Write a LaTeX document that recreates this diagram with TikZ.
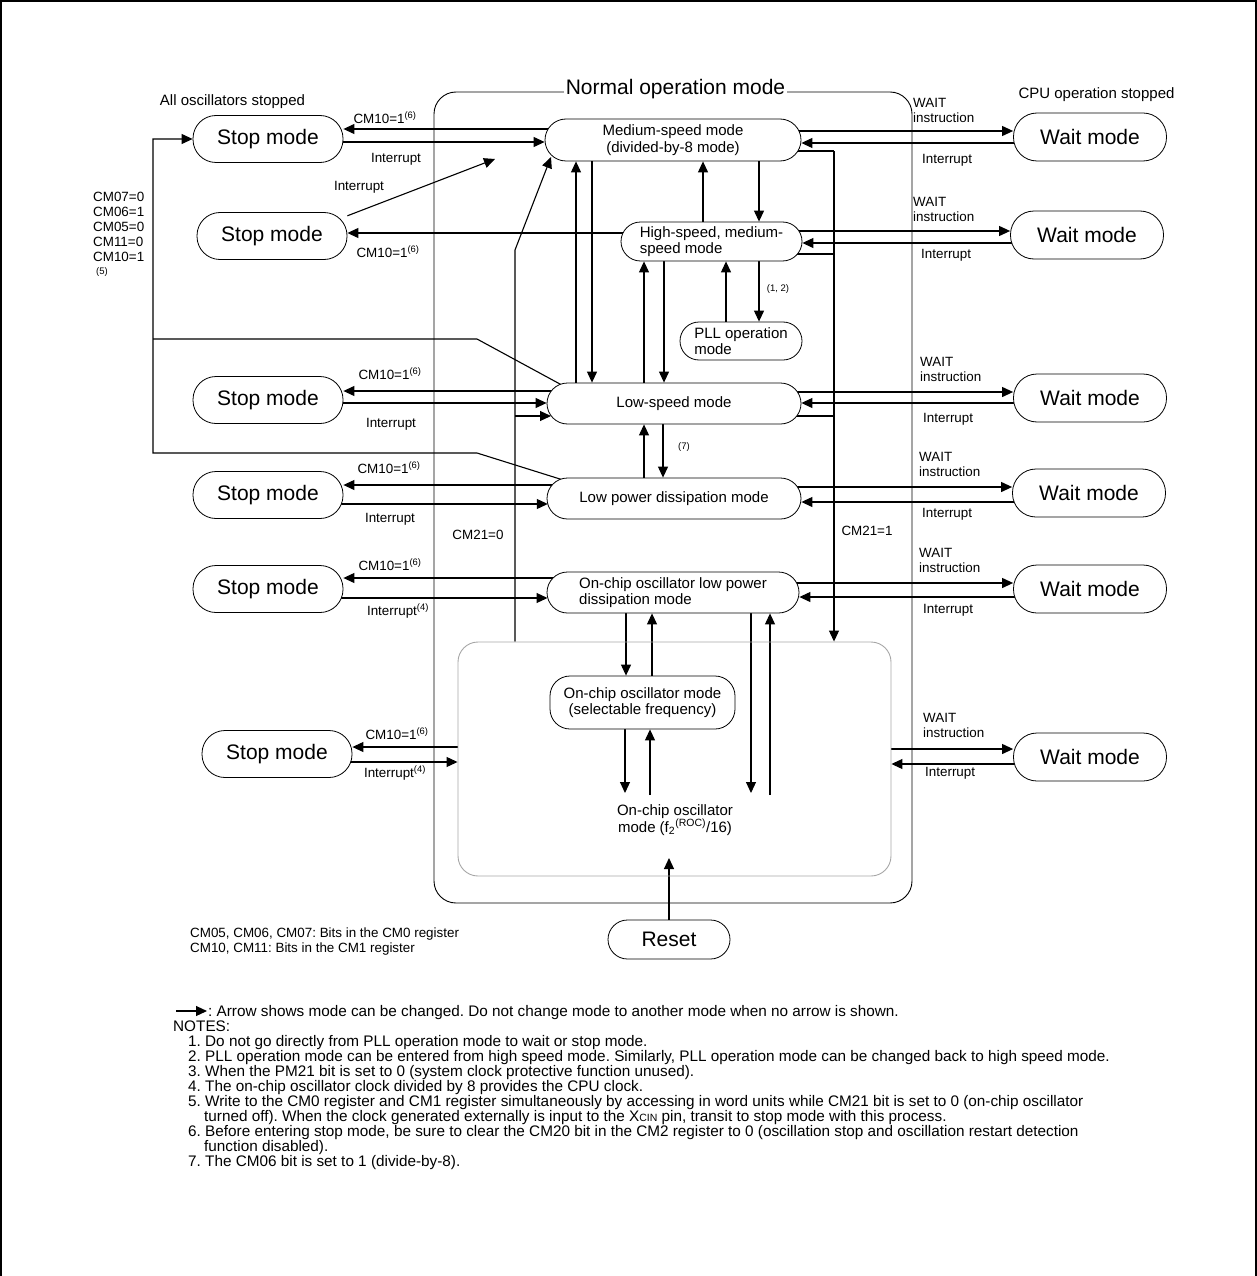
\documentclass[tikz,border=0pt]{standalone}
\usepackage{fontspec}
\setmainfont{Liberation Sans}
\usetikzlibrary{arrows.meta,backgrounds}
\newcommand\FBig{\fontsize{21}{24}\selectfont}
\newcommand\FMode{\fontsize{15}{16.5}\selectfont}
\newcommand\FLab{\fontsize{13.4}{15}\selectfont}
\newcommand\FNote{\fontsize{15.3}{15}\selectfont}
\newcommand\FTiny{\fontsize{9.5}{11}\selectfont}
\frenchspacing
\begin{document}
\begin{tikzpicture}[x=1pt,y=-1pt,
  ln/.style={line width=1.1pt},
  arr/.style={line width=1.1pt,-{Triangle[length=11pt,width=10pt]}},
  bx/.style={draw,fill=white,line width=0.8pt,inner sep=0pt},
  sbox/.style={bx,font=\FBig,minimum width=150pt,minimum height=47pt,rounded corners=23pt},
  wbox/.style={bx,font=\FBig,minimum width=153pt,minimum height=48pt,rounded corners=23.5pt},
  mbox/.style={bx,font=\FMode,align=center},
  lab/.style={font=\FLab,inner sep=0pt},
  wlab/.style={font=\FLab,inner sep=0pt,anchor=west,align=left},
  note/.style={font=\FNote,inner sep=0pt,anchor=base west},
]
\useasboundingbox (0,0) rectangle (1257,1276);
\draw[line width=1.5pt] (1,1276) -- (1,1) -- (1256,1) -- (1256,1276);

% frames
\node[draw,line width=0.9pt,minimum width=478pt,minimum height=811pt,rounded corners=22pt,inner sep=0pt] (normal) at (673,497.5) {};
\node[draw=black!35,line width=0.9pt,minimum width=433pt,minimum height=234pt,rounded corners=20pt,inner sep=0pt] (inner) at (674.5,759) {};
\node[fill=white,font=\FBig,inner xsep=2pt,inner ysep=0pt] (title) at (675.5,89) {Normal operation mode};

% mode boxes
\node[mbox,minimum width=256pt,minimum height=42pt,rounded corners=21pt] (med) at (673,140) {Medium-speed mode\\(divided-by-8 mode)};
\node[mbox,align=left,minimum width=181pt,minimum height=39pt,rounded corners=19.5pt] (hs) at (711.5,241.5) {High-speed, medium-\\speed mode};
\node[mbox,align=left,minimum width=122pt,minimum height=38pt,rounded corners=19pt] (pll) at (741,341) {PLL operation\\mode};
\node[mbox,minimum width=254pt,minimum height=41pt,rounded corners=20.5pt] (ls) at (674,403.5) {Low-speed mode};
\node[mbox,minimum width=254pt,minimum height=41pt,rounded corners=20.5pt] (lp) at (674,498.5) {Low power dissipation mode};
\node[mbox,align=left,minimum width=252pt,minimum height=41pt,rounded corners=20.5pt] (oclp) at (673,592.5) {On-chip oscillator low power\\dissipation mode};
\node[mbox,minimum width=185pt,minimum height=53pt,rounded corners=20pt] (ocm) at (642.5,702.5) {On-chip oscillator mode\\(selectable frequency)};
\node[font=\FMode,align=center,inner sep=0pt] (roc) at (675,820) {On-chip oscillator\\mode (f\textsubscript{2}\textsuperscript{(ROC)}/16)};
\node[sbox,minimum width=122pt,minimum height=39pt,rounded corners=19.5pt] (reset) at (669,939.5) {Reset};

% stop boxes
\node[sbox] (stop1) at (268,139) {Stop mode};
\node[sbox] (stop2) at (272,236) {Stop mode};
\node[sbox] (stop3) at (268,400) {Stop mode};
\node[sbox] (stop4) at (268,495) {Stop mode};
\node[sbox] (stop5) at (268,589) {Stop mode};
\node[sbox] (stop6) at (277,754) {Stop mode};

% wait boxes
\node[wbox] (wait1) at (1090,137) {Wait mode};
\node[wbox] (wait2) at (1087,235) {Wait mode};
\node[wbox] (wait3) at (1090,398) {Wait mode};
\node[wbox] (wait4) at (1089,493) {Wait mode};
\node[wbox] (wait5) at (1090,589) {Wait mode};
\node[wbox] (wait6) at (1090,757) {Wait mode};

% headings
\node[font=\FMode,inner sep=0pt] (hAll) at (232.5,102) {All oscillators stopped};
\node[font=\FMode,inner sep=0pt] (hCpu) at (1096.5,95) {CPU operation stopped};

% stop-side labels
\node[lab] (s1a) at (385,118) {CM10=1\textsuperscript{(6)}};
\node[lab] (s1b) at (396,159) {Interrupt};
\node[lab] (s2a) at (388,252) {CM10=1\textsuperscript{(6)}};
\node[lab] (s2b) at (359,187) {Interrupt};
\node[lab] (s3a) at (390,374) {CM10=1\textsuperscript{(6)}};
\node[lab] (s3b) at (391,424) {Interrupt};
\node[lab] (s4a) at (389,468) {CM10=1\textsuperscript{(6)}};
\node[lab] (s4b) at (390,519) {Interrupt};
\node[lab] (s5a) at (390,565) {CM10=1\textsuperscript{(6)}};
\node[lab] (s5b) at (398,611) {Interrupt\textsuperscript{(4)}};
\node[lab] (s6a) at (397,734) {CM10=1\textsuperscript{(6)}};
\node[lab] (s6b) at (395,773) {Interrupt\textsuperscript{(4)}};

% wait-side labels
\node[wlab] (w1a) at (913,110.5) {WAIT\\instruction};
\node[wlab] (w1b) at (922,160) {Interrupt};
\node[wlab] (w2a) at (913,209.5) {WAIT\\instruction};
\node[wlab] (w2b) at (921,255) {Interrupt};
\node[wlab] (w3a) at (920,369.5) {WAIT\\instruction};
\node[wlab] (w3b) at (923,419) {Interrupt};
\node[wlab] (w4a) at (919,464.5) {WAIT\\instruction};
\node[wlab] (w4b) at (922,514) {Interrupt};
\node[wlab] (w5a) at (919,560.5) {WAIT\\instruction};
\node[wlab] (w5b) at (923,610) {Interrupt};
\node[wlab] (w6a) at (923,725.5) {WAIT\\instruction};
\node[wlab] (w6b) at (925,773) {Interrupt};

% other labels
\node[lab] (c21a) at (478,535) {CM21=0};
\node[lab] (c21b) at (867,531) {CM21=1};
\node[font=\FTiny,inner sep=0pt] (n12) at (778,289) {(1, 2)};
\node[font=\FTiny,inner sep=0pt] (n7l) at (684,447) {(7)};
\node[wlab] (cmlist) at (93,226.5) {CM07=0\\CM06=1\\CM05=0\\CM11=0\\CM10=1};
\node[font=\FTiny,inner sep=0pt] (n5l) at (102,272) {(5)};
\node[font=\FLab,inner sep=0pt,anchor=west] (bits1) at (190,934) {CM05, CM06, CM07: Bits in the CM0 register};
\node[font=\FLab,inner sep=0pt,anchor=west] (bits2) at (190,949) {CM10, CM11: Bits in the CM1 register};

% legend and notes
\coordinate (legA) at (176,1011);
\coordinate (legB) at (207,1011);
\node[note] (leg) at (208,1016) {: Arrow shows mode can be changed. Do not change mode to another mode when no arrow is shown.};
\node[note] (notes) at (173,1031) {NOTES:};
\node[note] (nt1) at (188,1046) {1. Do not go directly from PLL operation mode to wait or stop mode.};
\node[note] (nt2) at (188,1061) {2. PLL operation mode can be entered from high speed mode. Similarly, PLL operation mode can be changed back to high speed mode.};
\node[note] (nt3) at (188,1076) {3. When the PM21 bit is set to 0 (system clock protective function unused).};
\node[note] (nt4) at (188,1091) {4. The on-chip oscillator clock divided by 8 provides the CPU clock.};
\node[note] (nt5) at (188,1106) {5. Write to the CM0 register and CM1 register simultaneously by accessing in word units while CM21 bit is set to 0 (on-chip oscillator};
\node[note] (nt5b) at (204,1121) {turned off). When the clock generated externally is input to the X{\fontsize{10.5}{12}\selectfont CIN} pin, transit to stop mode with this process.};
\node[note] (nt6) at (188,1136) {6. Before entering stop mode, be sure to clear the CM20 bit in the CM2 register to 0 (oscillation stop and oscillation restart detection};
\node[note] (nt6b) at (204,1151) {function disabled).};
\node[note] (nt7) at (188,1166) {7. The CM06 bit is set to 1 (divide-by-8).};

\begin{scope}[on background layer]
  % row 1
  \draw[arr] (med.center |- 0,129) -- (stop1.east |- 0,129);
  \draw[arr] (stop1.center |- 0,142) -- (med.west |- 0,142);
  \draw[arr] (med.center |- 0,131) -- (wait1.west |- 0,131);
  \draw[arr] (wait1.center |- 0,143) -- (med.east |- 0,143);
  % row 2
  \draw[arr] (hs.center |- 0,233) -- (stop2.east |- 0,233);
  \coordinate (itip) at (495,159);
  \draw[arr] (stop2.15) -- (itip);
  \draw[arr] (hs.center |- 0,231) -- (wait2.west |- 0,231);
  \draw[arr] (wait2.center |- 0,243) -- (hs.east |- 0,243);
  % row 3
  \draw[arr] (ls.center |- 0,391) -- (stop3.east |- 0,391);
  \draw[arr] (stop3.center |- 0,403) -- (ls.west |- 0,403);
  \draw[arr] (ls.center |- 0,392) -- (wait3.west |- 0,392);
  \draw[arr] (wait3.center |- 0,403) -- (ls.east |- 0,403);
  % row 4
  \draw[arr] (lp.center |- 0,485) -- (stop4.east |- 0,485);
  \draw[arr] (stop4.center |- 0,504) -- (547.8,504);
  \draw[arr] (lp.center |- 0,487) -- (wait4.west |- 0,487);
  \draw[arr] (wait4.center |- 0,502) -- (lp.east |- 0,502);
  % row 5
  \draw[arr] (oclp.center |- 0,578) -- (stop5.east |- 0,578);
  \draw[arr] (stop5.center |- 0,598) -- (547.5,598);
  \draw[arr] (oclp.center |- 0,583) -- (wait5.west |- 0,583);
  \draw[arr] (wait5.center |- 0,597) -- (oclp.east |- 0,597);
  % row 6
  \draw[arr] (inner.west |- 0,747) -- (stop6.east |- 0,747);
  \draw[arr] (stop6.center |- 0,762) -- (inner.west |- 0,762);
  \draw[arr] (inner.east |- 0,749) -- (wait6.west |- 0,749);
  \draw[arr] (wait6.center |- 0,764) -- (inner.east |- 0,764);
  % CM21=0 path
  \draw[arr] (515,0 |- inner.north) -- (515,250) -- (551,157);
  \draw[arr] (515,416) -- (551,416);
  % CM21=1 path
  \draw[ln] (med.center |- 0,151) -- (834,151);
  \draw[ln] (hs.center |- 0,254) -- (834,254);
  \draw[ln] (ls.center |- 0,416) -- (834,416);
  \draw[arr] (834,151) -- (834,0 |- inner.north);
  % left bus to stop1
  \draw[ln] (566,387.3) -- (477,339) -- (153,339);
  \draw[arr] (566,480.9) -- (477,453) -- (153,453) -- (153,139) -- (stop1.west);
  % vertical transitions
  \draw[arr] (576,0 |- ls.center) -- (576,0 |- med.south);
  \draw[arr] (592,0 |- med.center) -- (592,0 |- ls.north);
  \draw[arr] (703,0 |- hs.center) -- (703,0 |- med.south);
  \draw[arr] (759,0 |- med.center) -- (759,0 |- hs.north);
  \draw[arr] (644,0 |- ls.center) -- (644,0 |- hs.south);
  \draw[arr] (664,0 |- hs.center) -- (664,0 |- ls.north);
  \draw[arr] (726,0 |- pll.center) -- (726,0 |- hs.south);
  \draw[arr] (759,0 |- hs.center) -- (759,0 |- pll.north);
  \draw[arr] (644,0 |- lp.center) -- (644,0 |- ls.south);
  \draw[arr] (663,0 |- ls.center) -- (663,0 |- lp.north);
  \draw[arr] (626,0 |- oclp.center) -- (626,0 |- ocm.north);
  \draw[arr] (652,0 |- ocm.center) -- (652,0 |- oclp.south);
  \coordinate (r1) at (751,793);
  \coordinate (r2) at (770,795);
  \coordinate (r3) at (625,793);
  \coordinate (r4) at (650,795);
  \coordinate (r5) at (669,858);
  \draw[arr] (751,0 |- oclp.center) -- (r1);
  \draw[arr] (r2) -- (770,0 |- oclp.south);
  \draw[arr] (625,0 |- ocm.center) -- (r3);
  \draw[arr] (r4) -- (650,0 |- ocm.south);
  \draw[arr] (reset.north) -- (r5);
  % legend arrow
  \draw[arr] (legA) -- (legB);
\end{scope}
\end{tikzpicture}
\end{document}
